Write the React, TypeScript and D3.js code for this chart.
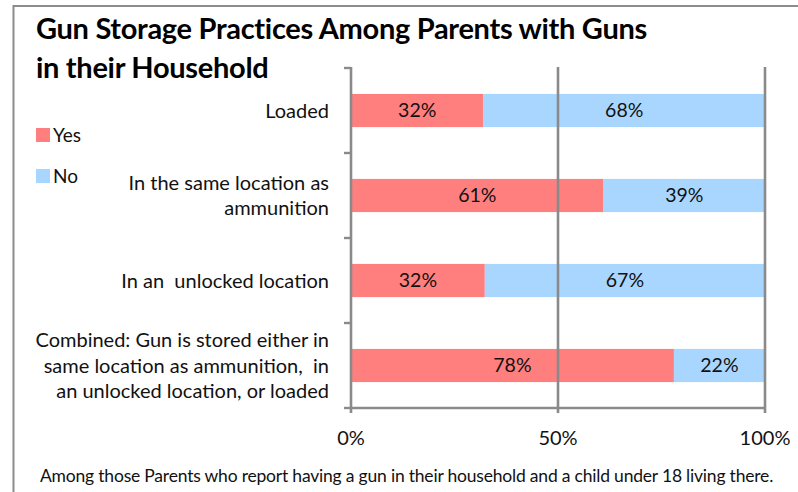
import React from "react";
import * as d3 from "d3";

const categories = [
  ["Loaded"],
  ["In the same location as", "ammunition"],
  ["In an  unlocked location"],
  ["Combined: Gun is stored either in", "same location as ammunition,  in", "an unlocked location, or loaded"],
];
const yesValues = [32, 61, 32, 78];
const noValues = [68, 39, 67, 22];
const xTicks = [0, 0.5, 1];
const seriesNames = ["Yes", "No"];
const colors = ["#FF7F7F", "#A9D6FE"];

const W = 798;
const H = 492;
const FONT = "Lato, 'Open Sans', sans-serif";

export default function App() {
  const x = d3.scaleLinear().domain([0, 1]).range([351, 765]);
  const y = d3
    .scaleBand<number>()
    .domain(categories.map((_, i) => i))
    .range([68, 408])
    .paddingInner(0.61)
    .paddingOuter(0.305);
  const bandStep = y.step();
  const grid = "#8A8A8A";

  const rows = categories.map((c, i) => {
    const total = yesValues[i] + noValues[i];
    const stack = d3.stack<any>().keys(["yes", "no"])([
      { yes: yesValues[i] / total, no: noValues[i] / total },
    ]);
    return { c, i, stack };
  });

  const boundaries = d3.range(categories.length + 1).map((k) => 68 + k * bandStep);

  return (
    <svg width={W} height={H} style={{ position: "absolute", left: 0, top: 0 }} fontFamily={FONT}>
      <rect x={0} y={0} width={W} height={H} fill="#fff" />
      {/* frame */}
      <line x1={13} x2={W} y1={6} y2={6} stroke="#8C8C8C" strokeWidth={2} />
      <line x1={13.5} x2={13.5} y1={5} y2={H} stroke="#8C8C8C" strokeWidth={2} />

      {/* title */}
      <text x={36} y={39} fontSize={29} fontWeight={700} fill="#000" letterSpacing={-0.3}>
        Gun Storage Practices Among Parents with Guns
      </text>
      <text x={36} y={78} fontSize={29} fontWeight={700} fill="#000" letterSpacing={-0.3}>
        in their Household
      </text>

      {/* bars */}
      {rows.map(({ i, stack }) =>
        stack.map((s, k) => {
          const d = s[0];
          const x0 = x(d[0]);
          const x1 = x(d[1]);
          const yy = y(i)!;
          const val = k === 0 ? yesValues[i] : noValues[i];
          return (
            <g key={`${i}-${k}`}>
              <rect x={x0} y={yy} width={x1 - x0} height={y.bandwidth()} fill={colors[k]} />
              <text
                x={(x0 + x1) / 2}
                y={yy + y.bandwidth() / 2}
                dy="0.35em"
                textAnchor="middle"
                fontSize={19.5}
                fill="#111"
              >
                {val}%
              </text>
            </g>
          );
        })
      )}

      {/* gridlines */}
      {xTicks.slice(1).map((t) => (
        <line key={t} x1={x(t)} x2={x(t)} y1={67} y2={413} stroke={grid} strokeWidth={2.6} />
      ))}
      {/* y axis */}
      <line x1={x(0)} x2={x(0)} y1={67} y2={413} stroke={grid} strokeWidth={2.6} />
      {boundaries.map((b, k) => (
        <line key={k} x1={344} x2={351} y1={b} y2={b} stroke={grid} strokeWidth={2.4} />
      ))}
      {/* x axis */}
      <line x1={x(0)} x2={x(1)} y1={408} y2={408} stroke={grid} strokeWidth={2.4} />

      {/* x tick labels */}
      {xTicks.map((t) => (
        <text key={t} x={x(t)} y={445} textAnchor="middle" fontSize={20} fill="#111">
          {d3.format(".0%")(t)}
        </text>
      ))}

      {/* category labels */}
      {rows.map(({ c, i }) => {
        const cy = y(i)! + y.bandwidth() / 2;
        const lh = 25.5;
        const start = cy - ((c.length - 1) * lh) / 2;
        return (
          <text key={i} textAnchor="end" fontSize={20} fill="#111">
            {c.map((line, j) => (
              <tspan key={j} x={329} y={start + j * lh} dy="0.35em" style={{ whiteSpace: "pre" }}>
                {line}
              </tspan>
            ))}
          </text>
        );
      })}

      {/* legend */}
      {seriesNames.map((n, k) => (
        <g key={n}>
          <rect x={36} y={128 + k * 41} width={14} height={14} fill={colors[k]} />
          <text x={53} y={135 + k * 41} dy="0.35em" fontSize={19} fill="#111">
            {n}
          </text>
        </g>
      ))}

      {/* footnote */}
      <text x={40} y={482} fontSize={17.5} fill="#111" letterSpacing={-0.2}>
        Among those Parents who report having a gun in their household and a child under 18 living there.
      </text>
    </svg>
  );
}
